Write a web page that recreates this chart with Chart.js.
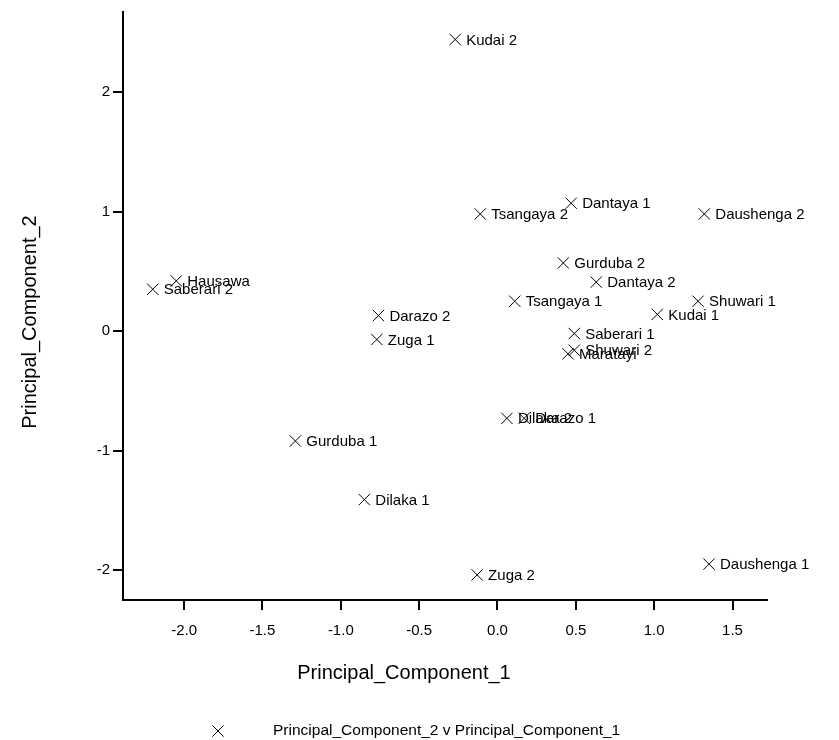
<!DOCTYPE html>
<html lang="en">
<head>
    <meta charset="UTF-8">
    <title>Principal Components</title>
    <script src="https://cdn.jsdelivr.net/npm/chart.js"></script>
    <style>
        html, body { margin: 0; padding: 0; background: #fff; }
    </style>
</head>
<body>
    <canvas id="pcaChart" width="839" height="740"></canvas>
    <script>
        // Site labels and their scores on the first two components
        const siteNames = [
            'Kudai 2', 'Dantaya 1', 'Tsangaya 2', 'Daushenga 2', 'Gurduba 2', 'Dantaya 2',
            'Hausawa', 'Saberari 2', 'Darazo 2', 'Tsangaya 1', 'Kudai 1', 'Shuwari 1',
            'Saberari 1', 'Zuga 1', 'Shuwari 2', 'Maratayi', 'Dilaka 2', 'Darazo 1',
            'Gurduba 1', 'Dilaka 1', 'Daushenga 1', 'Zuga 2'
        ];
        const pc1Values = [
            -0.27, 0.47, -0.11, 1.32, 0.42, 0.63,
            -2.05, -2.20, -0.76, 0.11, 1.02, 1.28,
            0.49, -0.77, 0.49, 0.45, 0.06, 0.17,
            -1.29, -0.85, 1.35, -0.13
        ];
        const pc2Values = [
            2.44, 1.07, 0.98, 0.98, 0.57, 0.41,
            0.42, 0.35, 0.13, 0.25, 0.14, 0.25,
            -0.02, -0.07, -0.16, -0.19, -0.73, -0.73,
            -0.92, -1.41, -1.95, -2.04
        ];
        const xTickValues = [-2.0, -1.5, -1.0, -0.5, 0.0, 0.5, 1.0, 1.5];
        const yTickValues = [-2, -1, 0, 1, 2];

        const xTitle = 'Principal_Component_1';
        const yTitle = 'Principal_Component_2';
        const legendText = 'Principal_Component_2 v Principal_Component_1';

        const fontFamily = '"Liberation Sans", Arial, sans-serif';

        // write the site name next to each marker
        const pointLabels = {
            id: 'pointLabels',
            afterDatasetsDraw(chart) {
                const ctx = chart.ctx;
                const meta = chart.getDatasetMeta(0);
                ctx.save();
                ctx.font = '15px ' + fontFamily;
                ctx.fillStyle = '#000';
                ctx.textAlign = 'left';
                ctx.textBaseline = 'middle';
                meta.data.forEach((el, i) => {
                    ctx.fillText(siteNames[i], el.x + 11, el.y + 1);
                });
                ctx.restore();
            }
        };

        // axis titles and legend line below the plot
        const titlesAndLegend = {
            id: 'titlesAndLegend',
            afterDraw(chart) {
                const ctx = chart.ctx;
                ctx.save();
                ctx.fillStyle = '#000';
                ctx.textBaseline = 'middle';

                ctx.font = '20px ' + fontFamily;
                ctx.textAlign = 'center';
                ctx.fillText(xTitle, 404, 673);

                ctx.translate(30, 322);
                ctx.rotate(-Math.PI / 2);
                ctx.fillText(yTitle, 0, 0);
                ctx.setTransform(1, 0, 0, 1, 0, 0);

                ctx.strokeStyle = '#000';
                ctx.lineWidth = 1;
                Chart.helpers.drawPoint(ctx, { pointStyle: 'crossRot', radius: 8, borderWidth: 1 }, 218, 731);

                ctx.font = '15.5px ' + fontFamily;
                ctx.textAlign = 'left';
                ctx.fillText(legendText, 273, 731);
                ctx.restore();
            }
        };

        const points = pc1Values.map((x, i) => ({ x, y: pc2Values[i] }));

        new Chart(document.getElementById('pcaChart'), {
            type: 'scatter',
            data: {
                datasets: [{
                    label: legendText,
                    data: points,
                    pointStyle: 'crossRot',
                    radius: 8,
                    hoverRadius: 8,
                    borderWidth: 1,
                    borderColor: '#000',
                    backgroundColor: 'rgba(0,0,0,0)',
                    clip: false
                }]
            },
            options: {
                responsive: false,
                animation: false,
                events: [],
                layout: { padding: { top: 8, right: 72, bottom: 0, left: 0 } },
                plugins: {
                    legend: { display: false },
                    tooltip: { enabled: false }
                },
                scales: {
                    x: {
                        type: 'linear',
                        position: 'bottom',
                        min: -2.39,
                        max: 1.72,
                        afterBuildTicks: scale => { scale.ticks = xTickValues.map(v => ({ value: v })); },
                        afterFit: scale => { scale.height = 140; },
                        border: { display: true, color: '#000', width: 2 },
                        grid: { display: true, drawOnChartArea: false, drawTicks: true, tickLength: 10, lineWidth: 2, color: '#000' },
                        ticks: {
                            color: '#000',
                            padding: 12,
                            font: { family: fontFamily, size: 15 },
                            callback: v => Number(v).toFixed(1)
                        }
                    },
                    y: {
                        type: 'linear',
                        min: -2.25,
                        max: 2.67,
                        afterBuildTicks: scale => { scale.ticks = yTickValues.map(v => ({ value: v })); },
                        afterFit: scale => { scale.width = 123; },
                        border: { display: true, color: '#000', width: 2 },
                        grid: { display: true, drawOnChartArea: false, drawTicks: true, tickLength: 10, lineWidth: 2, color: '#000' },
                        ticks: {
                            color: '#000',
                            padding: 3,
                            font: { family: fontFamily, size: 15 },
                            callback: v => String(v)
                        }
                    }
                }
            },
            plugins: [pointLabels, titlesAndLegend]
        });
    </script>
</body>
</html>
